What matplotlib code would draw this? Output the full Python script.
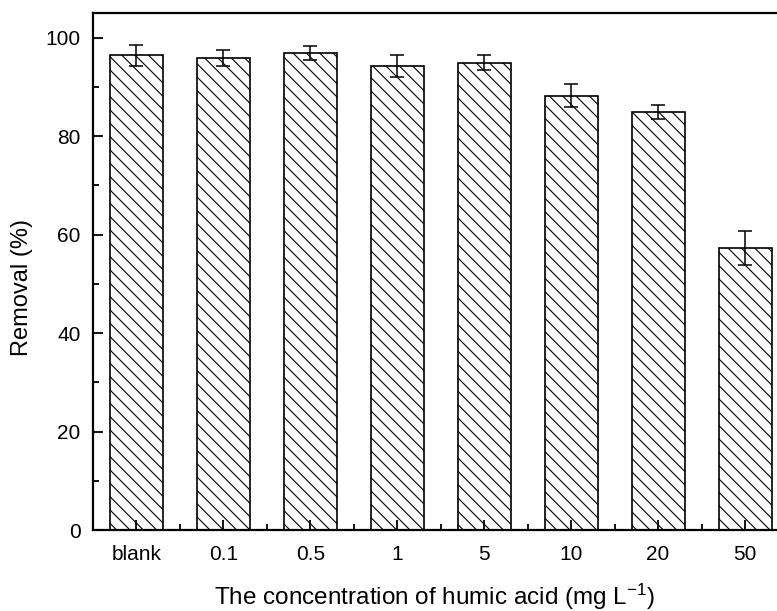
import matplotlib
matplotlib.use("Agg")
import matplotlib.pyplot as plt
import numpy as np
from matplotlib.ticker import MultipleLocator, FixedLocator

DPI = 80
S = 100 / DPI  # scale so sizes match a 100-dpi design

plt.rcParams['font.family'] = ['Liberation Sans', 'DejaVu Sans']
plt.rcParams['mathtext.fontset'] = 'custom'
plt.rcParams['mathtext.rm'] = 'Liberation Sans'
plt.rcParams['mathtext.it'] = 'Liberation Sans:italic'
plt.rcParams['hatch.linewidth'] = 0.8 * S

categories = ['blank', '0.1', '0.5', '1', '5', '10', '20', '50']
removal = [96.4, 95.8, 96.8, 94.3, 94.9, 88.2, 84.9, 57.3]
errors = [2.1, 1.6, 1.4, 2.2, 1.5, 2.3, 1.4, 3.5]

W, H = 777, 611
fig = plt.figure(figsize=(W / DPI, H / DPI), dpi=DPI)
ax = fig.add_axes([93 / W, (H - 530) / H, (788.5 - 93) / W, (530 - 13) / H])

x = np.arange(len(categories))
ax.bar(x, removal, width=0.61, color='white', edgecolor='black', linewidth=1.2 * S,
       hatch='\\\\', yerr=errors,
       error_kw=dict(ecolor='black', elinewidth=1.1 * S, capsize=5 * S, capthick=1.1 * S))

ax.set_xlim(-0.5, len(categories) - 0.5)
ax.set_ylim(0, 105)
ax.set_xticks(x)
ax.set_xticklabels(categories)
ax.xaxis.set_minor_locator(FixedLocator(x[:-1] + 0.5))
ax.yaxis.set_major_locator(MultipleLocator(20))
ax.yaxis.set_minor_locator(MultipleLocator(10))

ax.tick_params(which='both', direction='in', width=1.3 * S, labelsize=15 * S)
ax.tick_params(which='major', length=7 * S)
ax.tick_params(which='minor', length=4.5 * S)
ax.tick_params(axis='x', which='major', pad=11 * S)
ax.tick_params(axis='y', which='major', pad=9 * S)
ax.tick_params(top=False, right=False, which='both')

for s in ax.spines.values():
    s.set_linewidth(1.6 * S)

ax.set_ylabel('Removal (%)', fontsize=17 * S)
ax.yaxis.set_label_coords(-0.086, 0.47)
ax.set_xlabel('The concentration of humic acid (mg L$^{-1}$)', fontsize=17.5 * S)
ax.xaxis.set_label_coords((434.5 - 93) / (788.5 - 93), -0.1)

fig.savefig('out.png', dpi=DPI)
